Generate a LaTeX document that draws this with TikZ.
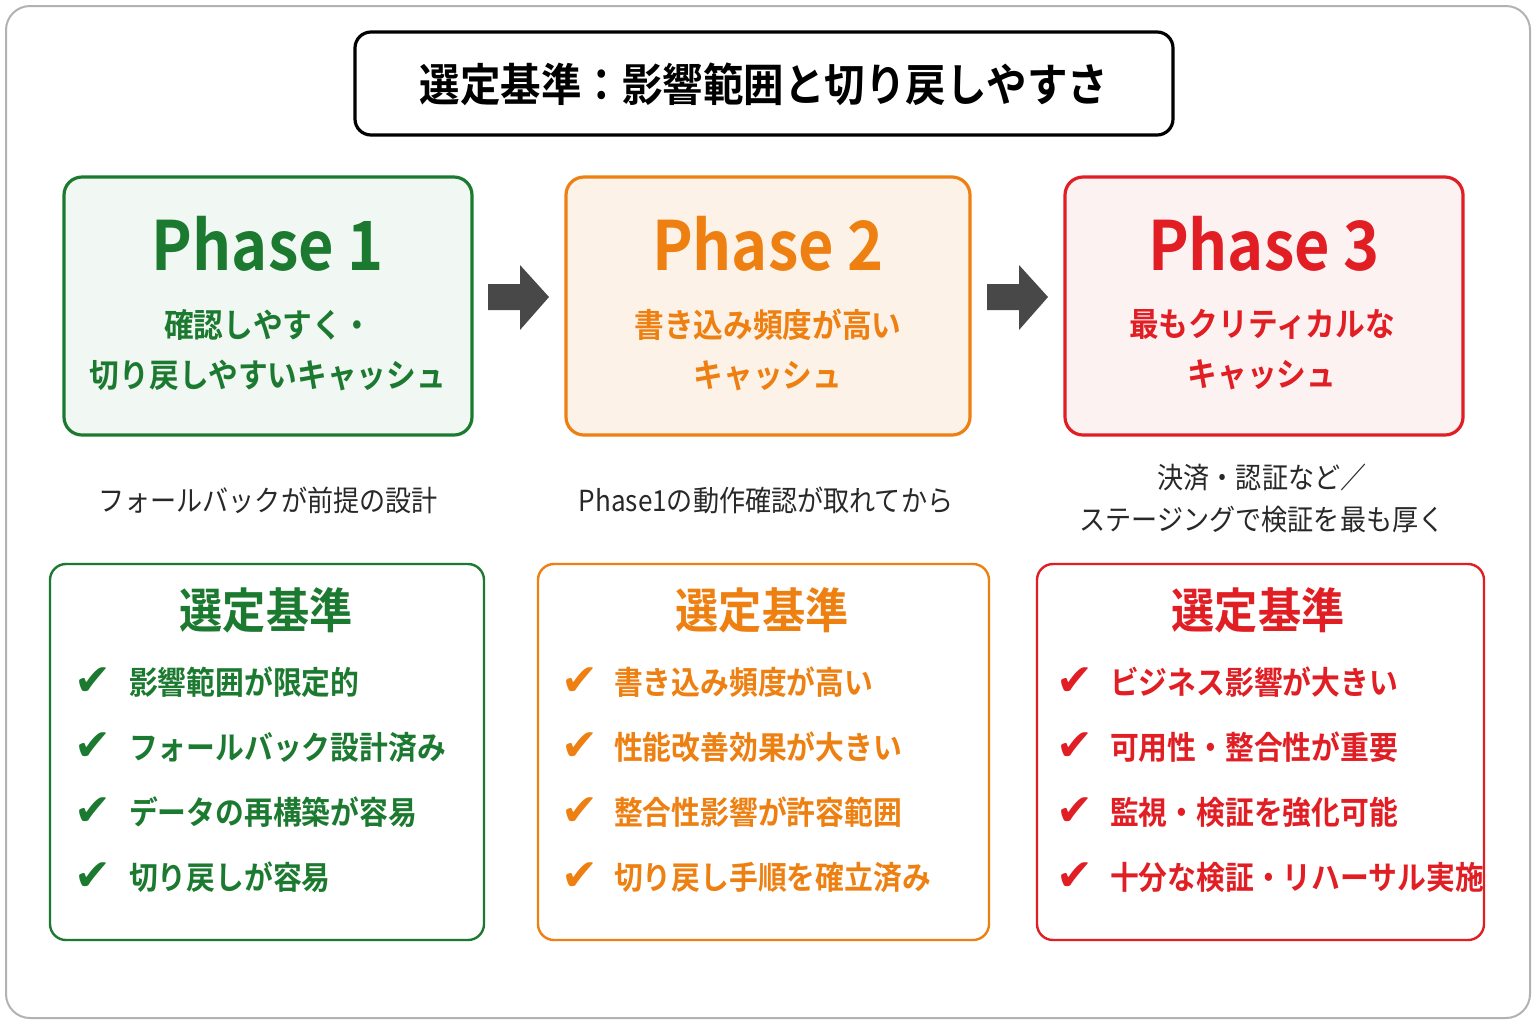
\documentclass[tikz,border=0pt]{standalone}
\usepackage{fontspec}
\setmainfont{Noto Sans CJK JP}[BoldFont={Noto Sans CJK JP Bold},FakeStretch=0.9]
\newfontfamily\dejavu{DejaVu Sans}
\definecolor{gr}{RGB}{28,122,48}
\definecolor{orA}{RGB}{238,128,18}
\definecolor{rd}{RGB}{224,30,36}
\definecolor{dk}{RGB}{40,40,40}
\begin{document}
\begin{tikzpicture}[x=0.5pt,y=-0.5pt,
  phase/.style={draw=#1,line width=1.6pt,rounded corners=9pt},
  crit/.style={draw=#1,line width=1.2pt,rounded corners=8pt,fill=white},
  ptitle/.style={font=\bfseries\fontsize{34}{36}\selectfont},
  psub/.style={font=\bfseries\fontsize{16.5}{25}\selectfont,align=center},
  mid/.style={font=\fontsize{14.5}{21}\selectfont,text=dk,align=center},
  hd/.style={font=\bfseries\fontsize{24}{26}\selectfont},
  item/.style={font=\bfseries\fontsize{16}{18}\selectfont,anchor=west},
  chk/.style={font=\dejavu\bfseries\fontsize{22}{22}\selectfont},
  arr/.style={fill=dk!85}]
\useasboundingbox (0,0) rectangle (1536,1024);
\draw[gray!60,line width=1pt,rounded corners=12pt,fill=white] (6,6) rectangle (1530,1018);
\draw[line width=1.6pt,rounded corners=8pt] (355,32) rectangle (1173,135);
\node[font=\bfseries\fontsize{22.5}{24}\selectfont] (title) at (764,84) {選定基準：影響範囲と切り戻しやすさ};
% phase boxes
\draw[phase=gr,fill=gr!6] (64,177) rectangle (472,435);
\draw[phase=orA,fill=orA!10] (566,177) rectangle (970,435);
\draw[phase=rd,fill=rd!6] (1065,177) rectangle (1463,435);
\node[ptitle,text=gr] (p1) at (268,244) {Phase 1};
\node[ptitle,text=orA] (p2) at (768,244) {Phase 2};
\node[ptitle,text=rd] (p3) at (1264,244) {Phase 3};
\node[psub,text=gr] (s1) at (268,350) {確認しやすく・\\切り戻しやすいキャッシュ};
\node[psub,text=orA] (s2) at (768,350) {書き込み頻度が高い\\キャッシュ};
\node[psub,text=rd] (s3) at (1262,350) {最もクリティカルな\\キャッシュ};
% arrows
\foreach \x in {488,987}{
  \fill[arr] (\x,284) -- (\x+32,284) -- (\x+32,265) -- (\x+61,297) -- (\x+32,330) -- (\x+32,310) -- (\x,310) -- cycle;}
% middle texts
\node[mid] (m1) at (268,500) {フォールバックが前提の設計};
\node[mid] (m2) at (766,500) {Phase1の動作確認が取れてから};
\node[mid] (m3) at (1262,498) {決済・認証など／\\ステージングで検証を最も厚く};
% criteria boxes
\draw[crit=gr] (50,564) rectangle (484,940);
\draw[crit=orA] (538,564) rectangle (989,940);
\draw[crit=rd] (1037,564) rectangle (1484,940);
\node[hd,text=gr] (h1) at (266,610) {選定基準};
\node[hd,text=orA] (h2) at (762,610) {選定基準};
\node[hd,text=rd] (h3) at (1258,610) {選定基準};
\foreach \t [count=\i] in {影響範囲が限定的,フォールバック設計済み,データの再構築が容易,切り戻しが容易}{
  \node[chk,text=gr] at (93,617+65*\i) {✔};
  \node[item,text=gr] at (122,617+65*\i) {\t};}
\foreach \t [count=\i] in {書き込み頻度が高い,性能改善効果が大きい,整合性影響が許容範囲,切り戻し手順を確立済み}{
  \node[chk,text=orA] at (580,617+65*\i) {✔};
  \node[item,text=orA] at (607,617+65*\i) {\t};}
\foreach \t [count=\i] in {ビジネス影響が大きい,可用性・整合性が重要,監視・検証を強化可能,十分な検証・リハーサル実施}{
  \node[chk,text=rd] at (1075,617+65*\i) {✔};
  \node[item,text=rd] at (1103,617+65*\i) {\t};}
\end{tikzpicture}
\end{document}
